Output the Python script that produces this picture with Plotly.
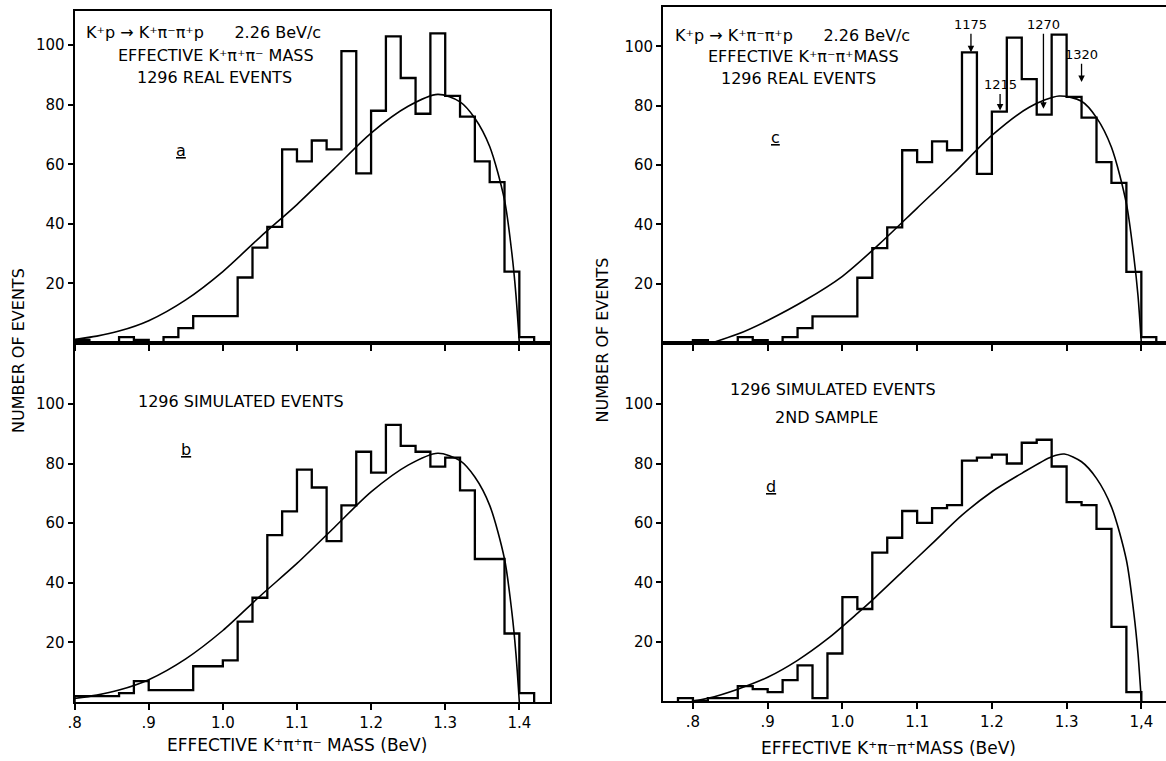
import plotly.graph_objects as go

# ---------------- data ----------------
BIN_WIDTH = 0.02

# real events, K+ pi pi mass, bins starting at 0.80 GeV (panels a and c)
real_start = 0.80
real_counts = [1, 0, 0, 2, 1, 0, 2, 5, 9, 9, 9, 22, 32, 39, 65, 61, 68, 65, 98, 57,
               78, 103, 89, 77, 104, 83, 76, 61, 54, 24, 2]

# simulated events, first sample (panel b)
sim1_start = 0.80
sim1_counts = [2, 2, 2, 3, 7, 4, 4, 4, 12, 12, 14, 27, 35, 56, 64, 78, 72, 54, 66, 84,
               77, 93, 86, 84, 79, 82, 71, 48, 48, 23, 3]

# simulated events, second sample (panel d)
sim2_start = 0.78
sim2_counts = [1, 0, 1, 1, 5, 4, 3, 7, 12, 1, 16, 35, 31, 50, 55, 64, 60, 65, 66, 81,
               82, 83, 80, 87, 88, 79, 67, 66, 58, 25, 3]

# phase-space curves
curve_ab_x = [0.80, 0.83, 0.86, 0.90, 0.95, 1.00, 1.05, 1.10, 1.15, 1.20, 1.25, 1.29,
              1.32, 1.34, 1.36, 1.38, 1.39, 1.3955, 1.40]
curve_ab_y = [1.2, 2.3, 4.0, 7.5, 14.5, 24.0, 35.5, 46.5, 58.5, 70.5, 79.5, 83.5,
              81.0, 75.5, 66.0, 48.0, 30.0, 16.0, 0.0]

curve_c_x = [0.825, 0.86, 0.90, 0.95, 1.00, 1.05, 1.10, 1.15, 1.20, 1.25, 1.29,
             1.32, 1.34, 1.36, 1.38, 1.39, 1.3955, 1.40]
curve_c_y = [0.0, 3.0, 7.6, 14.4, 22.5, 33.5, 45.5, 57.5, 70.0, 79.5, 83.3,
             81.5, 76.0, 66.0, 47.0, 29.0, 16.0, 0.0]

curve_d_x = [0.80, 0.82, 0.86, 0.90, 0.94, 0.98, 1.02, 1.04, 1.08, 1.12, 1.16, 1.20,
             1.24, 1.28, 1.297, 1.32, 1.34, 1.36, 1.38, 1.39, 1.3955, 1.40]
curve_d_y = [0.0, 0.9, 4.0, 8.0, 13.7, 20.9, 29.5, 34.0, 43.5, 53.0, 62.6, 70.5,
             76.7, 82.3, 83.2, 80.6, 75.0, 65.4, 47.5, 29.5, 16.0, 0.0]

x_tickvals = [0.8, 0.9, 1.0, 1.1, 1.2, 1.3, 1.4]
x_ticktext_left = [".8", ".9", "1.0", "1.1", "1.2", "1.3", "1.4"]
x_ticktext_right = [".8", ".9", "1.0", "1.1", "1.2", "1.3", "1,4"]
y_tickvals = [20, 40, 60, 80, 100]

# resonance markers in panel c
marker_labels = ["1175", "1215", "1270", "1320"]
marker_x = [1.172, 1.211, 1.269, 1.320]
marker_text_y = [107.3, 87.0, 107.3, 97.2]
marker_head_y = [98.0, 78.4, 79.0, 88.0]

# ---------------- helpers ----------------
FONT = "DejaVu Sans"


def step_points(start, counts):
    edges = [round(start + BIN_WIDTH * i, 4) for i in range(len(counts) + 1)]
    xs = [edges[0]] + edges[:-1] + [edges[-1]]
    ys = [0] + list(counts) + [0]
    return xs, ys


fig = go.Figure()


def add_hist(start, counts, xa, ya):
    xs, ys = step_points(start, counts)
    fig.add_trace(go.Scatter(x=xs, y=ys, mode="lines", line=dict(shape="hv", color="black", width=2.3),
                             xaxis=xa, yaxis=ya, showlegend=False, hoverinfo="skip"))


def add_curve(cx, cy, xa, ya):
    fig.add_trace(go.Scatter(x=cx, y=cy, mode="lines",
                             line=dict(shape="spline", smoothing=0.8, color="black", width=1.6),
                             xaxis=xa, yaxis=ya, showlegend=False, hoverinfo="skip"))


add_hist(real_start, real_counts, "x", "y")
add_curve(curve_ab_x, curve_ab_y, "x", "y")
add_hist(sim1_start, sim1_counts, "x2", "y2")
add_curve(curve_ab_x, curve_ab_y, "x2", "y2")
add_hist(real_start, real_counts, "x3", "y3")
add_curve(curve_c_x, curve_c_y, "x3", "y3")
add_hist(sim2_start, sim2_counts, "x4", "y4")
add_curve(curve_d_x, curve_d_y, "x4", "y4")

W, H = 1166, 761
LEFT_DOM = [68 / W, 546 / W]
RIGHT_DOM = [660 / W, 1.0]
MID = 1 - 343 / H

tickfont = dict(family=FONT, size=15, color="black")


def xaxis(domain, anchor, rng, ticktext, labels, mirror=True):
    return dict(domain=domain, anchor=anchor, range=rng, showline=True, linecolor="black", linewidth=2,
                mirror=mirror, ticks="outside", ticklen=6, tickwidth=1.5, tickcolor="black",
                tickvals=x_tickvals, ticktext=ticktext, showticklabels=labels, tickfont=tickfont,
                showgrid=False, zeroline=False, fixedrange=True)


def yaxis(domain, anchor, rng, mirror=True):
    return dict(domain=domain, anchor=anchor, range=rng, showline=True, linecolor="black", linewidth=2,
                mirror=mirror, ticks="outside", ticklen=5, tickwidth=1.5, tickcolor="black",
                tickvals=y_tickvals, tickfont=tickfont, showgrid=False, zeroline=False, fixedrange=True)


fig.update_layout(
    width=W, height=H,
    margin=dict(l=0, r=0, t=0, b=0),
    paper_bgcolor="white", plot_bgcolor="white",
    xaxis=xaxis(LEFT_DOM, "y", [0.8, 1.441], x_ticktext_left, False),
    yaxis=yaxis([MID, 1 - 11 / H], "x", [0, 111.5]),
    xaxis2=xaxis(LEFT_DOM, "y2", [0.8, 1.441], x_ticktext_left, True),
    yaxis2=yaxis([1 - 702 / H, MID], "x2", [0, 120.5]),
    xaxis3=xaxis(RIGHT_DOM, "y3", [0.76, 1.433], x_ticktext_right, False),
    yaxis3=yaxis([MID, 1 - 7 / H], "x3", [0, 113.3], mirror=False),
    xaxis4=xaxis(RIGHT_DOM, "y4", [0.76, 1.433], x_ticktext_right, True),
    yaxis4=yaxis([1 - 701 / H, MID], "x4", [0, 120.6], mirror=False),
)

ann = []
TS = 16


def txt(text, x, y, xref, yref, size=TS, xanchor="center"):
    ann.append(dict(text=text, x=x, y=y, xref=xref, yref=yref, showarrow=False,
                    xanchor=xanchor, yanchor="middle", font=dict(family=FONT, size=size, color="black")))


reaction = "K\u207ap \u2192 K\u207a\u03c0\u207b\u03c0\u207ap&nbsp;&nbsp;&nbsp;&nbsp;&nbsp;&nbsp;2.26 BeV/c"

# panel a
txt(reaction, 0.813, 104.4, "x", "y", TS, "left")
txt("EFFECTIVE K\u207a\u03c0\u207a\u03c0\u207b MASS", 0.991, 96.5, "x", "y")
txt("1296 REAL EVENTS", 0.989, 89.3, "x", "y")
txt("<u>a</u>", 0.944, 64.7, "x", "y")
# panel b
txt("1296 SIMULATED EVENTS", 1.025, 100.8, "x2", "y2")
txt("<u>b</u>", 0.95, 84.6, "x2", "y2")
# panel c
txt(reaction, 0.774, 103.7, "x3", "y3", TS, "left")
txt("EFFECTIVE K\u207a\u03c0\u207b\u03c0\u207aMASS", 0.948, 96.7, "x3", "y3")
txt("1296 REAL EVENTS", 0.941, 89.1, "x3", "y3")
txt("<u>c</u>", 0.911, 69.4, "x3", "y3")
for lab, mx, ty, t1 in zip(marker_labels, marker_x, marker_text_y, marker_head_y):
    ann.append(dict(text=lab, x=mx, y=t1, ax=mx, ay=ty, xref="x3", yref="y3", axref="x3", ayref="y3",
                    showarrow=True, arrowhead=2, arrowsize=1, arrowwidth=1.3, arrowcolor="black",
                    font=dict(family=FONT, size=13, color="black")))
# panel d
txt("1296 SIMULATED EVENTS", 0.9875, 104.8, "x4", "y4")
txt("2ND SAMPLE", 0.979, 95.6, "x4", "y4")
txt("<u>d</u>", 0.905, 72.2, "x4", "y4")

# axis titles
txt("EFFECTIVE K\u207a\u03c0\u207a\u03c0\u207b MASS (BeV)", 292 / W, 1 - 745 / H, "paper", "paper", 17)
txt("EFFECTIVE K\u207a\u03c0\u207b\u03c0\u207aMASS (BeV)", 887 / W, 1 - 748 / H, "paper", "paper", 17)
for xp, yp in [(12 / W, 1 - 350 / H), (600 / W, 1 - 340 / H)]:
    ann.append(dict(text="NUMBER OF EVENTS", x=xp, y=yp, xref="paper", yref="paper", showarrow=False,
                    xanchor="center", yanchor="middle",
                    textangle=-90, font=dict(family=FONT, size=16, color="black")))

fig.update_layout(annotations=ann)
fig.write_html("out.html")
